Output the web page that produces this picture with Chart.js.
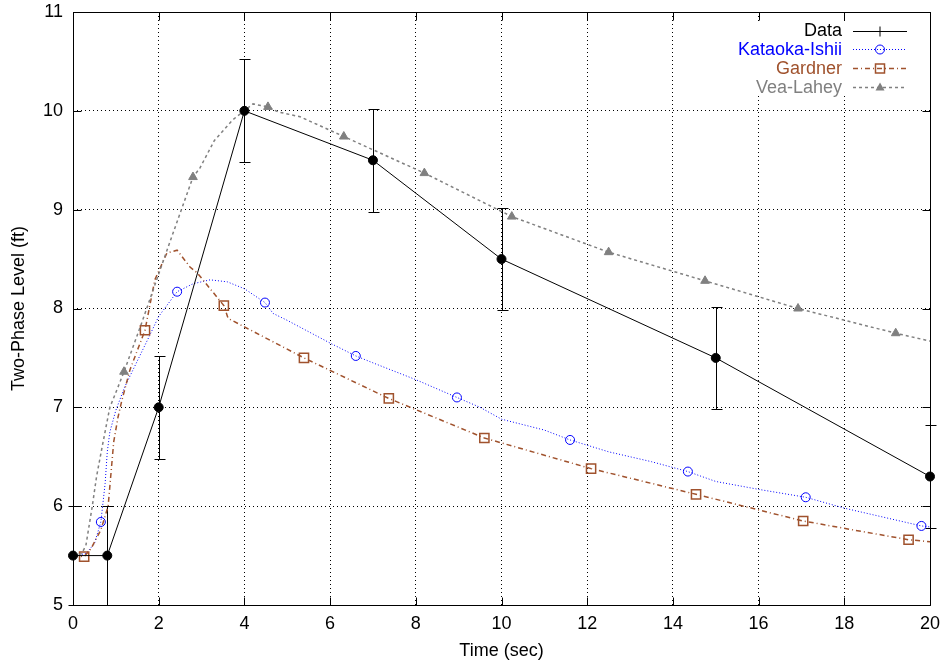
<!DOCTYPE html>
<html><head><meta charset="utf-8">
<script src="https://cdn.jsdelivr.net/npm/chart.js@4/dist/chart.umd.min.js"></script>
<style>html,body{margin:0;padding:0;background:#fff}</style>
</head><body>
<canvas id="c" width="943" height="666" style="display:block;width:943px;height:666px"></canvas>
<script>
// ---- data ----
const xTickValues = [0,2,4,6,8,10,12,14,16,18,20];
const yTickValues = [5,6,7,8,9,10,11];

const dataTime  = [0, 0.8, 2, 4, 7, 10, 15, 20];
const dataLevel = [5.5, 5.5, 7, 10, 9.5, 8.5, 7.5, 6.3];
const dataErr   = [0.5, 0.5, 0.52, 0.52, 0.52, 0.52, 0.52, 0.52];

const kataokaX = [0,0.3,0.5,0.65,0.75,0.8,0.86,1.0,1.2,1.77,2.0,2.43,2.8,3.2,3.6,4.0,4.48,4.67,5,6,6.6,7,8,8.96,9.5,10,11,11.6,12.5,13.5,14.35,15,16,17.1,18,18.5,19.8,20];
const kataokaY = [5.5,5.52,5.62,5.84,6.23,6.55,6.75,6.97,7.2,7.71,7.92,8.17,8.25,8.29,8.27,8.2,8.06,7.95,7.88,7.65,7.52,7.45,7.28,7.10,7.0,6.88,6.77,6.67,6.55,6.45,6.35,6.25,6.17,6.09,5.98,5.93,5.80,5.79];
const kataokaMarkX = [0.65,2.43,4.48,6.6,8.96,11.6,14.35,17.1,19.8];
const kataokaMarkY = [5.84,8.17,8.06,7.52,7.10,6.67,6.35,6.09,5.80];

const gardnerX = [0,0.26,0.42,0.65,0.82,0.88,0.95,1.05,1.14,1.33,1.68,1.91,2.19,2.43,2.73,2.9,3.52,3.62,5.39,7.37,9.6,12.09,14.54,17.04,19.5,20];
const gardnerY = [5.5,5.49,5.57,5.76,6.0,6.3,6.65,6.9,7.07,7.38,7.78,8.29,8.56,8.59,8.42,8.36,8.03,7.90,7.50,7.09,6.69,6.38,6.12,5.85,5.66,5.64];
const gardnerMarkX = [0.26,1.68,3.52,5.39,7.37,9.6,12.09,14.54,17.04,19.5];
const gardnerMarkY = [5.49,7.78,8.03,7.50,7.09,6.69,6.38,6.12,5.85,5.66];

const veaX = [0,0.2,0.3,0.45,0.55,0.68,0.86,1.0,1.19,1.6,2.0,2.3,2.8,2.96,3.3,3.73,4.2,4.55,4.78,5.3,6.32,8.2,10.24,12.5,14.75,16.92,19.2,20];
const veaY = [5.5,5.52,5.6,6.0,6.3,6.6,7.0,7.15,7.36,7.85,8.35,8.72,9.33,9.42,9.7,9.91,10.07,10.04,9.99,9.94,9.74,9.37,8.93,8.57,8.28,8.0,7.75,7.67];
const veaMarkX = [1.19,2.8,4.55,6.32,8.2,10.24,12.5,14.75,16.92,19.2];
const veaMarkY = [7.36,9.33,10.04,9.74,9.37,8.93,8.57,8.28,8.0,7.75];

const seriesNames = ['Data','Kataoka-Ishii','Gardner','Vea-Lahey'];

// ---- styling ----
const FONT = '"Liberation Sans", Arial, Helvetica, sans-serif';
const C_DATA = '#000000', C_KI = '#0000ff', C_G = '#a0522d', C_V = '#808080';
const pts = (xs, ys) => xs.map((v,i)=>({x:v, y:ys[i]}));

const seriesStyles = [
  {color:C_DATA, dash:[], width:1, marker:'errbar'},
  {color:C_KI, dash:[1,2], width:1, marker:'circle'},
  {color:C_G, dash:[5,3,1,3], width:1.5, marker:'rect'},
  {color:C_V, dash:[3,3], width:1.5, marker:'triangle'}
];

const datasets = [
  {label:seriesNames[0], data:pts(dataTime,dataLevel), borderColor:C_DATA, borderWidth:1,
   pointRadius:4.5, pointBackgroundColor:'#000', pointBorderColor:'#000', tension:0, clip:false, order:0},
  {label:seriesNames[1], data:pts(kataokaX,kataokaY), borderColor:C_KI, borderWidth:1, borderDash:[1,2],
   pointRadius:0, tension:0, order:3},
  {label:seriesNames[1]+' markers', data:pts(kataokaMarkX,kataokaMarkY), showLine:false,
   pointStyle:'circle', pointRadius:4.5, pointBorderColor:C_KI, pointBackgroundColor:'rgba(0,0,0,0)', pointBorderWidth:1, order:3},
  {label:seriesNames[2], data:pts(gardnerX,gardnerY), borderColor:C_G, borderWidth:1.5, borderDash:[5,3,1,3],
   pointRadius:0, tension:0, order:2},
  {label:seriesNames[2]+' markers', data:pts(gardnerMarkX,gardnerMarkY), showLine:false,
   pointStyle:'rect', pointRadius:6.5, pointBorderColor:C_G, pointBackgroundColor:'rgba(0,0,0,0)', pointBorderWidth:1.5, order:2},
  {label:seriesNames[3], data:pts(veaX,veaY), borderColor:C_V, borderWidth:1.5, borderDash:[3,3],
   pointRadius:0, tension:0, order:1},
  {label:seriesNames[3]+' markers', data:pts(veaMarkX,veaMarkY), showLine:false,
   pointStyle:'triangle', pointRadius:5, pointBorderColor:C_V, pointBackgroundColor:C_V, pointBorderWidth:1, order:1}
];

const errorBarPlugin = {
  id:'errorBars',
  beforeDatasetsDraw(chart){
    const {ctx, scales:{x,y}} = chart;
    ctx.save();
    ctx.strokeStyle = '#000'; ctx.lineWidth = 1; ctx.setLineDash([]);
    ctx.beginPath();
    dataTime.forEach((t,i)=>{
      const px = Math.round(x.getPixelForValue(t)) + 0.5;
      const lo = Math.max(dataLevel[i]-dataErr[i], y.min);
      const hi = dataLevel[i]+dataErr[i];
      const p1 = Math.round(y.getPixelForValue(lo)) + 0.5;
      const p2 = Math.round(y.getPixelForValue(hi)) + 0.5;
      ctx.moveTo(px,p1); ctx.lineTo(px,p2);
      ctx.moveTo(px-5,p2); ctx.lineTo(px+6,p2);
      ctx.moveTo(px-5,p1); ctx.lineTo(px+6,p1);
    });
    ctx.stroke();
    ctx.restore();
  }
};

function drawMarker(ctx, kind, x, y, color){
  ctx.save();
  ctx.setLineDash([]);
  ctx.strokeStyle = color; ctx.fillStyle = color;
  if (kind==='errbar'){
    ctx.lineWidth=1; ctx.beginPath(); ctx.moveTo(x,y-5); ctx.lineTo(x,y+5); ctx.stroke();
  } else if (kind==='circle'){
    ctx.lineWidth=1; ctx.beginPath(); ctx.arc(x,y,4.5,0,Math.PI*2); ctx.stroke();
  } else if (kind==='rect'){
    ctx.lineWidth=1.5; ctx.strokeRect(x-4.5,y-4.5,9,9);
  } else if (kind==='triangle'){
    ctx.beginPath(); ctx.moveTo(x,y-5); ctx.lineTo(x+4.5,y+3); ctx.lineTo(x-4.5,y+3); ctx.closePath(); ctx.fill();
  }
  ctx.restore();
}

const legendPlugin = {
  id:'sideLegend',
  afterDatasetsDraw(chart){
    const {ctx, chartArea:a} = chart;
    ctx.save();
    ctx.fillStyle = '#fff';
    ctx.fillRect(a.right-203, a.top+10, 188, 73);
    ctx.font = '18px ' + FONT;
    ctx.textAlign = 'right'; ctx.textBaseline = 'middle';
    seriesNames.forEach((name,i)=>{
      const st = seriesStyles[i];
      const cy = a.top + 18.5 + i*18.7;
      ctx.fillStyle = st.color;
      ctx.fillText(name, a.right-88, cy+1);
      ctx.strokeStyle = st.color; ctx.lineWidth = st.width; ctx.setLineDash(st.dash);
      ctx.beginPath(); ctx.moveTo(a.right-77, Math.round(cy)+0.5); ctx.lineTo(a.right-23, Math.round(cy)+0.5); ctx.stroke();
      drawMarker(ctx, st.marker, a.right-50, Math.round(cy)+0.5, st.color);
    });
    ctx.restore();
  }
};

const framePlugin = {
  id:'frame',
  afterDraw(chart){
    const {ctx, chartArea:a, scales:{x,y}} = chart;
    ctx.save();
    ctx.setLineDash([]);
    ctx.strokeStyle = '#000'; ctx.lineWidth = 1;
    const L = Math.round(a.left)+0.5, R = Math.round(a.right)+0.5, T = Math.round(a.top)+0.5, B = Math.round(a.bottom)+0.5;
    ctx.beginPath();
    ctx.rect(L, T, R-L, B-T);
    const tl = 8;
    xTickValues.forEach(v=>{
      const px = Math.round(x.getPixelForValue(v))+0.5;
      ctx.moveTo(px,B); ctx.lineTo(px,B-tl);
      ctx.moveTo(px,T); ctx.lineTo(px,T+tl);
    });
    yTickValues.forEach(v=>{
      const py = Math.round(y.getPixelForValue(v))+0.5;
      ctx.moveTo(L,py); ctx.lineTo(L+tl,py);
      ctx.moveTo(R,py); ctx.lineTo(R-tl,py);
    });
    ctx.stroke();
    ctx.restore();
  }
};

new Chart(document.getElementById('c'), {
  type:'line',
  data:{datasets},
  plugins:[errorBarPlugin, legendPlugin, framePlugin],
  options:{
    responsive:false, animation:false, devicePixelRatio:1,
    layout:{padding:{left:0,right:13,top:12,bottom:0}},
    plugins:{legend:{display:false}, tooltip:{enabled:false}},
    elements:{line:{fill:false}},
    scales:{
      x:{type:'linear', min:0, max:20,
        afterBuildTicks(s){ s.ticks = xTickValues.map(v=>({value:v})); },
        ticks:{color:'#000', font:{family:FONT,size:18}, padding:8, maxRotation:0, autoSkip:false},
        grid:{color:'#000', lineWidth:1, drawTicks:false},
        border:{display:false, dash:[1,3]},
        title:{display:true, text:'Time (sec)', color:'#000', font:{family:FONT,size:18}, padding:{top:0,bottom:4}},
        afterFit(s){ s.height = 61; s.paddingLeft = 0; s.paddingRight = 0; }
      },
      y:{type:'linear', min:5, max:11,
        afterBuildTicks(s){ s.ticks = yTickValues.map(v=>({value:v})); },
        ticks:{color:'#000', font:{family:FONT,size:18}, padding:10, autoSkip:false},
        grid:{color:'#000', lineWidth:1, drawTicks:false},
        border:{display:false, dash:[1,3]},
        title:{display:true, text:'Two-Phase Level (ft)', color:'#000', font:{family:FONT,size:18}, padding:{top:8,bottom:0}},
        afterFit(s){ s.width = 73; s.paddingTop = 0; s.paddingBottom = 0; }
      }
    }
  }
});
</script>
</body></html>
